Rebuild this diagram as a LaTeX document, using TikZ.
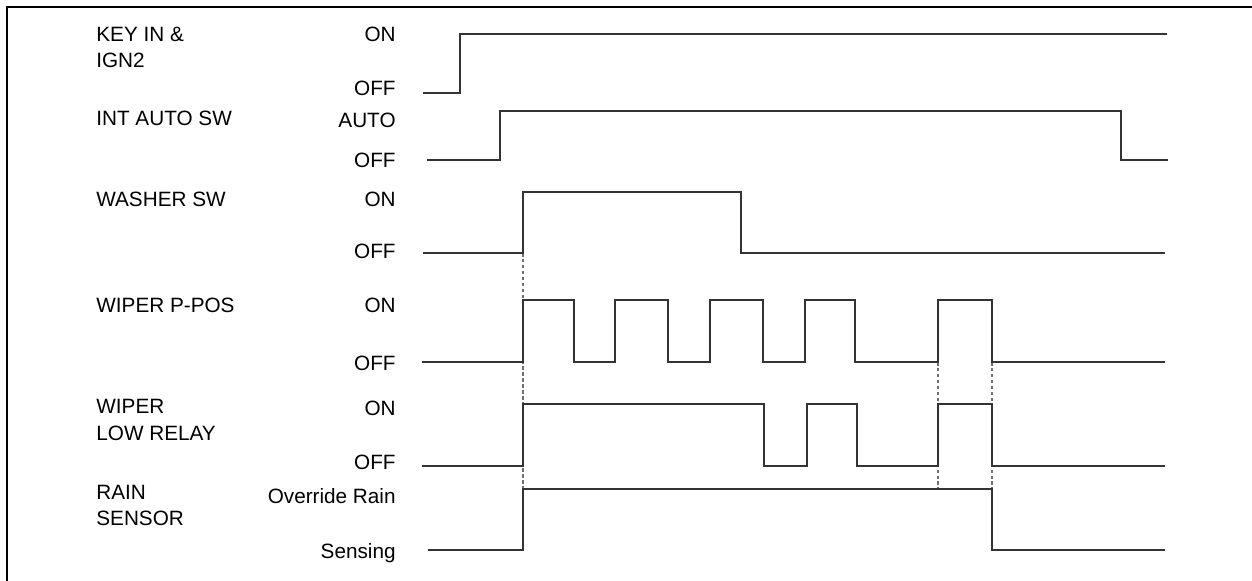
\documentclass[tikz,border=0pt]{standalone}
\usepackage{fontspec}
\setsansfont{Liberation Sans}
\usepackage{xcolor}
\definecolor{TraceGray}{HTML}{333333}
\definecolor{GuideGray}{HTML}{707070}

\begin{document}
\begin{tikzpicture}[x=0.02cm,y=-0.02cm,font=\sffamily\fontsize{11.8}{14.8}\selectfont]
\tikzset{signal/.style={anchor=base west,inner sep=0pt,align=left},
         level/.style={anchor=base east,inner sep=0pt},
         trace/.style={draw=TraceGray,line width=1.2pt},
         guide/.style={draw=GuideGray,line width=0.6pt,dash pattern=on 2pt off 1.4pt}}
\useasboundingbox (0,0) rectangle (1252,581);
\clip (0,0) rectangle (1252,581);
\draw[line width=1.6pt] (7,600) -- (7,7) -- (1270,7);
% signal names (base of the last line)
\node[signal] (key) at (96,67.7) {KEY IN \&\\IGN2};
\node[signal] (intauto) at (96,126) {INT AUTO SW};
\node[signal] (washer) at (96,206.5) {WASHER SW};
\node[signal] (ppos) at (96,312.5) {WIPER P-POS};
\node[signal] (relay) at (96,440) {WIPER\\LOW RELAY};
\node[signal] (rain) at (96,525.5) {RAIN\\SENSOR};
% levels
\node[level] (keyon) at (396,41.7) {ON};
\node[level] (keyoff) at (396,95.5) {OFF};
\node[level] (autoon) at (396,128) {AUTO};
\node[level] (autooff) at (396,168) {OFF};
\node[level] (washon) at (396,206.5) {ON};
\node[level] (washoff) at (396,258.5) {OFF};
\node[level] (pposon) at (396,312.5) {ON};
\node[level] (pposoff) at (396,370) {OFF};
\node[level] (relayon) at (396,415) {ON};
\node[level] (relayoff) at (396,469) {OFF};
\node[level] (rainon) at (396,503) {Override Rain};
\node[level] (rainoff) at (396,558) {Sensing};
% timing guides
\draw[guide] (523,253) -- (523,489);
\draw[guide] (938,362) -- (938,489);
\draw[guide] (992,362) -- (992,489);
% waveforms
\draw[trace] (423,93) -| (460,34) -- (1167,34);
\draw[trace] (427,160) -| (500,111) -| (1121,160) -- (1168,160);
\draw[trace] (423,253) -| (523,192) -| (741,253) -- (1165,253);
\draw[trace] (422,362) -| (523,300) -| (574,362) -| (615,300) -| (668,362) -| (710,300) -| (763,362) -| (805,300) -| (855,362) -| (938,300) -| (992,362) -- (1165,362);
\draw[trace] (422,466) -| (523,404) -| (764,466) -| (807,404) -| (857,466) -| (938,404) -| (992,466) -- (1165,466);
\draw[trace] (428,550) -| (523,489) -| (992,550) -- (1165,550);
\end{tikzpicture}
\end{document}
